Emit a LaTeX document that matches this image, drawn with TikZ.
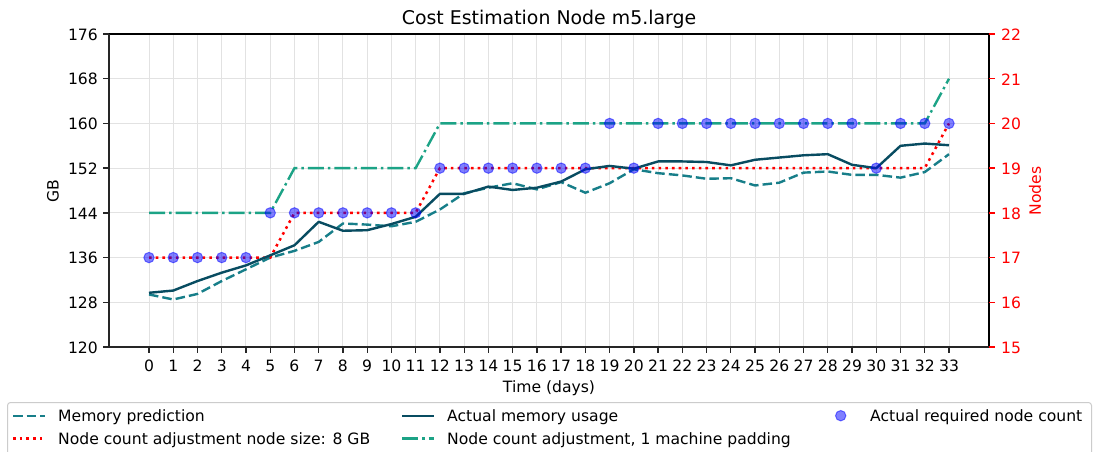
\documentclass[tikz,border=0pt]{standalone}
\usepackage{fontspec}
\setmainfont{DejaVu Sans}
\definecolor{predcol}{HTML}{177E89}
\definecolor{actcol}{HTML}{084C61}
\definecolor{padcol}{HTML}{1CA386}
\definecolor{gridcol}{HTML}{E2E2E2}
\definecolor{legedge}{HTML}{CCCCCC}
\begin{document}
\begin{tikzpicture}[x=1pt,y=-1pt,
  lbl/.style={font=\fontsize{15.6}{18}\selectfont, inner sep=0pt},
  ttl/.style={font=\fontsize{18.9}{22}\selectfont, inner sep=0pt},
  gridline/.style={draw=gridcol, line width=1pt},
  tickmark/.style={line width=1.3pt, black!85},
  redtick/.style={line width=1.3pt, red},
  predline/.style={predcol, line width=2.4pt, dash pattern=on 9.5pt off 4.1pt},
  actline/.style={actcol, line width=2.4pt},
  eightline/.style={red, line width=2.5pt, dash pattern=on 2.6pt off 4.1pt},
  padline/.style={padcol, line width=2.4pt, dash pattern=on 16pt off 4pt on 2.5pt off 4pt},
  nodedot/.style={fill=blue, fill opacity=0.5, draw=blue, draw opacity=0.5, line width=1pt}
]
\useasboundingbox (0,0) rectangle (1094,452);
\clip (0,0) rectangle (1094,452);
\fill[white] (0,0) rectangle (1094,452);

% grid
\foreach \d in {0,...,33}
  \draw[gridline] ({149+24.2424*\d},34) -- ({149+24.2424*\d},347);
\foreach \k in {1,...,6}
  \draw[gridline] (109,{347-44.714*\k}) -- (989,{347-44.714*\k});

% data series: x = day, y = GB
\begin{scope}[shift={(149,347)}, x=24.2424pt, y=5.589pt, shift={(0,-120)}]
  \draw[predline] plot coordinates {(0,129.4) (1,128.5) (2,129.5) (3,131.8) (4,133.9)
    (5,136.0) (6,137.2) (7,138.8) (8,142.1) (9,141.9) (10,141.6) (11,142.4) (12,144.6)
    (13,147.5) (14,148.5) (15,149.3) (16,148.2) (17,149.5) (18,147.6) (19,149.3)
    (20,151.8) (21,151.1) (22,150.7) (23,150.1) (24,150.2) (25,148.9) (26,149.4)
    (27,151.2) (28,151.4) (29,150.8) (30,150.8) (31,150.3) (32,151.3) (33,154.5)};
  \draw[eightline] plot coordinates {(0,136) (5,136) (6,144) (11,144) (12,152) (32,152) (33,160)};
  \draw[actline, line join=round] plot coordinates {(0,129.7) (1,130.1) (2,131.8) (3,133.3)
    (4,134.6) (5,136.4) (6,138.2) (7,142.4) (8,140.8) (9,140.9) (10,142.0) (11,143.3)
    (12,147.4) (13,147.4) (14,148.7) (15,148.1) (16,148.5) (17,149.6) (18,151.8)
    (19,152.4) (20,151.9) (21,153.2) (22,153.2) (23,153.1) (24,152.5) (25,153.5)
    (26,153.9) (27,154.3) (28,154.5) (29,152.6) (30,152.0) (31,156.0) (32,156.4) (33,156.1)};
  \draw[padline] plot coordinates {(0,144) (5,144) (6,152) (11,152) (12,160) (32,160) (33,168)};
  \foreach \d/\n in {0/17,1/17,2/17,3/17,4/17,5/18,6/18,7/18,8/18,9/18,10/18,11/18,
      12/19,13/19,14/19,15/19,16/19,17/19,18/19,19/20,20/19,21/20,22/20,23/20,24/20,
      25/20,26/20,27/20,28/20,29/20,30/19,31/20,32/20,33/20}
    \path[nodedot] (\d,{8*\n}) circle[radius=5.2pt];
\end{scope}

% frame
\draw[black, line width=1.1pt] (109,34) -- (989,34) -- (989,347);
\draw[black!85, line width=1.6pt] (109,34) -- (109,347) -- (989,347);

% left axis
\foreach \k [evaluate=\k as \v using int(120+8*\k)] in {0,...,7} {
  \draw[tickmark] (103,{347-44.714*\k}) -- (109,{347-44.714*\k});
  \node[lbl, anchor=east] (gb\k) at (98,{347.5-44.714*\k}) {\v};
}
% right axis
\foreach \k [evaluate=\k as \v using int(15+\k)] in {0,...,7} {
  \draw[redtick] (989,{347-44.714*\k}) -- (995,{347-44.714*\k});
  \node[lbl, anchor=west, text=red] (nd\k) at (1001,{347.5-44.714*\k}) {\v};
}
% bottom axis
\foreach \d in {0,...,33} {
  \draw[tickmark] ({149+24.2424*\d},347) -- ({149+24.2424*\d},353);
  \node[lbl] (day\d) at ({149+24.2424*\d},365.5) {\d};
}

% labels
\node[ttl, anchor=base] (title) at (549,25) {Cost Estimation Node m5.large};
\node[lbl, anchor=base] (xlab) at (549,392.5) {Time (days)};
\node[lbl, rotate=90] (ylab) at (53,191) {GB};
\node[lbl, rotate=90, text=red] (rlab) at (1035,191) {Nodes};

% legend
\draw[legedge, fill=white, fill opacity=0.8, rounded corners=3pt, line width=1pt]
  (7.5,402.5) rectangle (1091.5,475);
\coordinate (p1) at (13,415.7);  \coordinate (p2) at (44.5,415.7);
\coordinate (r1) at (13,438.3);  \coordinate (r2) at (44.5,438.3);
\coordinate (a1) at (402,415.7); \coordinate (a2) at (433.5,415.7);
\coordinate (g1) at (402,438.3); \coordinate (g2) at (433.5,438.3);
\draw[predline] (p1) -- (p2);
\draw[eightline] (r1) -- (r2);
\draw[actline] (a1) -- (a2);
\draw[padline] (g1) -- (g2);
\path[nodedot] (840.7,415.7) circle[radius=5.2pt];
\node[lbl, anchor=base west] (lp) at (58,421.5) {Memory prediction};
\node[lbl, anchor=base west] (lr) at (58,444.5) {Node count adjustment node size: 8 GB};
\node[lbl, anchor=base west] (la) at (447,421.5) {Actual memory usage};
\node[lbl, anchor=base west] (lg) at (447,444.5) {Node count adjustment, 1 machine padding};
\node[lbl, anchor=base west] (ln) at (870,421.5) {Actual required node count};
\end{tikzpicture}
\end{document}
